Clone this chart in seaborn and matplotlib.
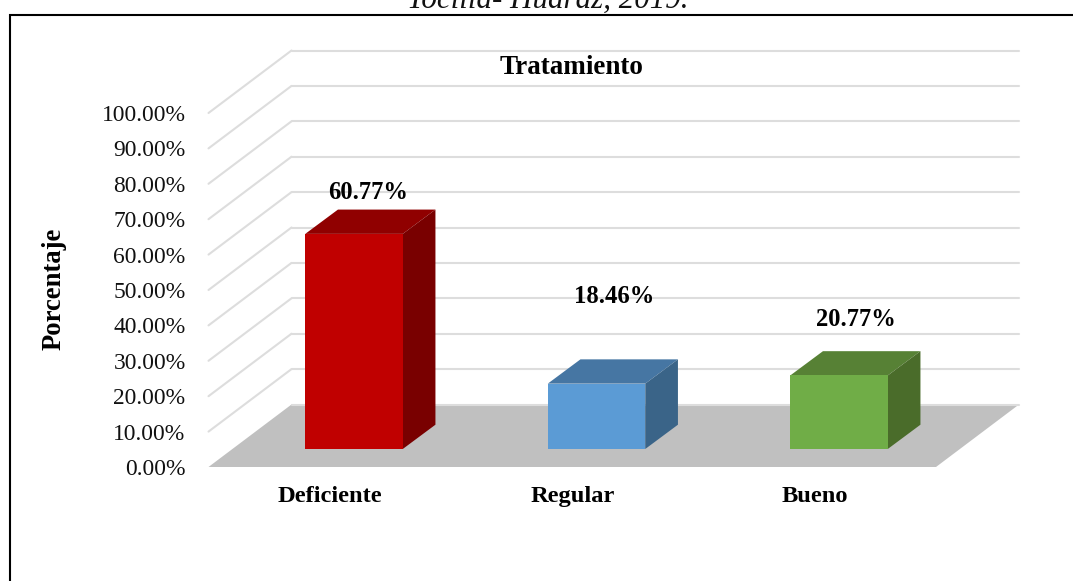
import matplotlib
matplotlib.use('Agg')
import matplotlib.pyplot as plt
from matplotlib.lines import Line2D
from matplotlib.patches import Polygon
from matplotlib.transforms import Affine2D
import seaborn as sns

categorias = ['Deficiente', 'Regular', 'Bueno']
porcentajes = [60.77, 18.46, 20.77]
marcas_y = [0, 10, 20, 30, 40, 50, 60, 70, 80, 90, 100]
titulo = 'Tratamiento'
eje_y = 'Porcentaje'
pie_cortado = 'Tocilla- Huaraz, 2019.'

W, H = 1073, 581

col_frente = ['#c00000', '#5b9bd5', '#70ad47']
col_techo = ['#900000', '#4676a3', '#578135']
col_lado = ['#790000', '#3a6488', '#4a6c2a']
col_piso = '#c0c0c0'
col_grid = '#dddddd'

# pseudo 3D offsets, display pixels
FONDO = (83, 62.5)
BARRA = (24.25, 18)
PROF = (32.7, 24.3)

sns.set_style('white')
plt.rcParams['font.family'] = ['Liberation Serif', 'DejaVu Serif']
plt.rcParams['text.color'] = 'black'

fig = plt.figure(figsize=(W / 100, H / 100), dpi=100, facecolor='white')
ax = fig.add_axes([208.5 / W, (H - 467) / H, 727.5 / W, 354 / H])
ax.patch.set_alpha(0)

sns.barplot(x=categorias, y=porcentajes, hue=categorias, palette=col_frente,
            saturation=1, width=0.402, linewidth=0, legend=False, ax=ax, zorder=5)

ax.set_xlim(-0.5, 2.5)
ax.set_ylim(0, 100)
ax.set_yticks(marcas_y)
ax.set_yticklabels([f'{v:.2f}%' for v in marcas_y], fontsize=16.9, color='#111111')
ax.tick_params(axis='y', length=0, pad=16.5)
ax.tick_params(axis='x', length=0, pad=14)
for lab in ax.get_xticklabels():
    lab.set_fontweight('bold')
    lab.set_fontsize(17.6)
    lab.set_color('black')
sns.despine(ax=ax, left=True, bottom=True)

ax.set_ylabel(eje_y, fontsize=19.2, fontweight='bold', va='center', labelpad=0, color='black')
ax.yaxis.set_label_coords((54.5 - 208.5) / 727.5, (467 - 289) / 354)
ax.set_xlabel('')


def px(x, y):
    return ax.transData.transform((x, y))


def cara(puntos, color, z):
    ax.add_patch(Polygon(puntos, closed=True, facecolor=color, edgecolor='none',
                         transform=Affine2D(), clip_on=False, zorder=z))


# floor
x0, x1 = ax.get_xlim()
a = px(x0, 0)
b = px(x1, 0)
cara([a, b, b + FONDO, a + FONDO], col_piso, 1)

# grid on the back wall and left wall
for v in marcas_y:
    p = px(x0, v)
    q = px(x1, v)
    if v > 0:
        ax.add_line(Line2D([p[0], p[0] + FONDO[0]], [p[1], p[1] + FONDO[1]], color=col_grid,
                           lw=1.5, transform=Affine2D(), clip_on=False, zorder=2))
    ax.add_line(Line2D([p[0] + FONDO[0], q[0] + FONDO[0]], [p[1] + FONDO[1], q[1] + FONDO[1]],
                       color=col_grid, lw=1.5, transform=Affine2D(), clip_on=False, zorder=2))

# shift the front faces forward of the wall and add top and side
desp = Affine2D().translate(*BARRA)
frentes = [p for p in ax.patches if p.get_zorder() == 5]
for i, barra in enumerate(frentes):
    barra.set_transform(ax.transData + desp)
    barra.set_clip_on(False)
    izq = barra.get_x()
    der = izq + barra.get_width()
    alto = barra.get_height()
    si = px(izq, alto) + BARRA
    sd = px(der, alto) + BARRA
    id_ = px(der, 0) + BARRA
    cara([si, sd, sd + PROF, si + PROF], col_techo[i], 4)
    cara([id_, sd, sd + PROF, id_ + PROF], col_lado[i], 4)

# value labels, moved by hand in the original
despl_etq = [(38, 59), (41.5, 105), (41, 74)]
for i, v in enumerate(porcentajes):
    ax.annotate(f'{v:.2f}%', (i, v), xytext=despl_etq[i], textcoords='offset pixels',
                ha='center', va='center', fontsize=17.7, fontweight='bold', zorder=6,
                color='black', annotation_clip=False)

fig.text(572 / W, 1 - 67 / H, titulo, ha='center', va='center', fontsize=19.5, fontweight='bold')
fig.text(548 / W, 1 - 8 / H, pie_cortado, ha='center', va='baseline', fontsize=22.3, style='italic',
         color='#111111')

# outer frame, cropped on the right and bottom
fig.add_artist(Line2D([9.5 / W, 9.5 / W, 1], [0, 1 - 15 / H, 1 - 15 / H], color='black', lw=1.5,
                      solid_joinstyle='miter'))

fig.savefig('out.png', dpi=100)
